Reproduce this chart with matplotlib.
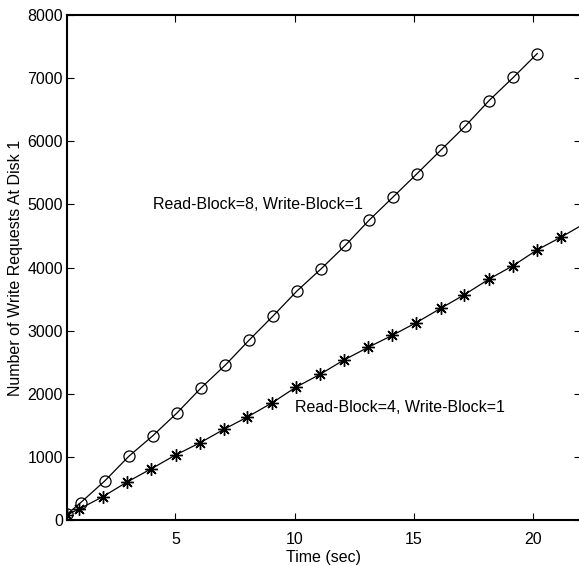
import matplotlib
matplotlib.use("Agg")
import matplotlib.pyplot as plt

plt.rcParams["font.family"] = ["Liberation Sans", "DejaVu Sans"]

# Read-Block=8, Write-Block=1 (circles)
t_rb8 = [0.47, 1.03, 2.04, 3.05, 4.06, 5.08, 6.09, 7.1, 8.1, 9.11, 10.1,
         11.12, 12.13, 13.12, 14.13, 15.12, 16.14, 17.15, 18.15, 19.16, 20.17]
w_rb8 = [95, 274, 618, 1009, 1336, 1700, 2097, 2456, 2853, 3238, 3629,
         3983, 4353, 4750, 5119, 5483, 5864, 6239, 6645, 7010, 7390]

# Read-Block=4, Write-Block=1 (asterisks)
t_rb4 = [0.47, 0.98, 1.96, 2.98, 4.0, 5.01, 6.02, 7.04, 8.02, 9.07, 10.05,
         11.07, 12.07, 13.09, 14.1, 15.1, 16.13, 17.1, 18.14, 19.16, 20.16,
         21.16, 22.17]
w_rb4 = [85, 175, 369, 602, 813, 1030, 1220, 1437, 1632, 1859, 2103,
         2309, 2536, 2737, 2927, 3127, 3355, 3566, 3815, 4030, 4279,
         4480, 4700]

fs = 11.5

fig = plt.figure(figsize=(5.79, 5.66), dpi=100)
ax = fig.add_axes([67 / 579, 46 / 566, 514 / 579, 505 / 566])

ax.plot(t_rb8, w_rb8, color="black", lw=0.9, marker="o", ms=8,
        mfc="none", mec="black", mew=0.9)
ax.plot(t_rb4, w_rb4, color="black", lw=0.9, marker=(8, 2, 0), ms=9,
        mec="black", mew=1.0)

ax.text(4.05, 5000, "Read-Block=8, Write-Block=1", fontsize=fs, va="center")
ax.text(10.02, 1780, "Read-Block=4, Write-Block=1", fontsize=fs, va="center")

ax.set_xlim(0.46, 22)
ax.set_ylim(0, 8000)
ax.set_xticks([5, 10, 15, 20])
ax.set_yticks(range(0, 8001, 1000))
ax.set_xlabel("Time (sec)", fontsize=fs, labelpad=2)
ax.set_ylabel("Number of Write Requests At Disk 1", fontsize=fs, labelpad=3)
ax.tick_params(direction="in", top=True, right=True, length=5, width=0.8,
               labelsize=fs, pad=3)
ax.tick_params(axis="x", pad=9)
for s in ax.spines.values():
    s.set_linewidth(1.5)

fig.savefig("out.png", dpi=100)
